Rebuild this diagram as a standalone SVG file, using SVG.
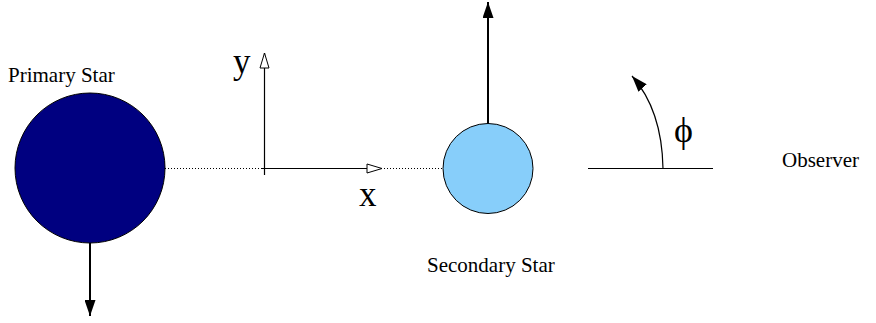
<svg xmlns="http://www.w3.org/2000/svg" width="876" height="323" viewBox="0 0 876 323">
<style>
text{font-family:'Liberation Serif','Times New Roman',serif;fill:#000}
.ln{stroke:#000;fill:none}
</style>
<defs>
<marker id="big" viewBox="0 0 16 11" refX="16" refY="5.5" markerWidth="16" markerHeight="11" markerUnits="userSpaceOnUse" orient="auto"><path d="M0,0 L16,5.5 L0,11 z" fill="#000"/></marker>
<marker id="open" viewBox="0 0 17 11" refX="16" refY="5.5" markerWidth="17" markerHeight="11" markerUnits="userSpaceOnUse" orient="auto"><path d="M1,1 L16,5.5 L1,10 z" fill="#fff" stroke="#000" stroke-width="1"/></marker>
</defs>
<rect width="876" height="323" fill="#fff"/>
<g id="connectors">
<line x1="165" y1="168.5" x2="443" y2="168.5" stroke="#000" stroke-width="1" stroke-dasharray="1,2"/>
<line class="ln" x1="264.5" y1="175" x2="264.5" y2="53" stroke-width="1.2" marker-end="url(#open)"/>
<line class="ln" x1="262" y1="168.5" x2="382" y2="168.5" stroke-width="1.2" marker-end="url(#open)"/>
<line class="ln" x1="90" y1="243" x2="90" y2="316" stroke-width="2" marker-end="url(#big)"/>
<line class="ln" x1="488" y1="124" x2="488" y2="2" stroke-width="2" marker-end="url(#big)"/>
<line class="ln" x1="588" y1="168.5" x2="713" y2="168.5" stroke-width="1"/>
<path class="ln" d="M663,168.5 Q662,110 632,76" stroke-width="1.2" marker-end="url(#big)"/>
</g>
<g id="primary"><circle cx="90" cy="168" r="75" fill="#000080" stroke="#000" stroke-width="1"/><text x="8" y="82" font-family="Liberation Serif, serif" font-size="21">Primary Star</text></g>
<g id="secondary"><circle cx="488" cy="168.5" r="45" fill="#87cefa" stroke="#000" stroke-width="1"/><text x="427" y="272" font-family="Liberation Serif, serif" font-size="21">Secondary Star</text></g>
<g id="observer"><text x="782" y="167" font-family="Liberation Serif, serif" font-size="21">Observer</text></g>
<g id="axes"><text x="233" y="73" font-family="Liberation Serif, serif" font-size="35">y</text><text x="359" y="206" font-family="Liberation Serif, serif" font-size="35">x</text></g>
<g id="angle"><text x="674" y="142" font-family="Liberation Serif, serif" font-size="36">ϕ</text></g>
</svg>
